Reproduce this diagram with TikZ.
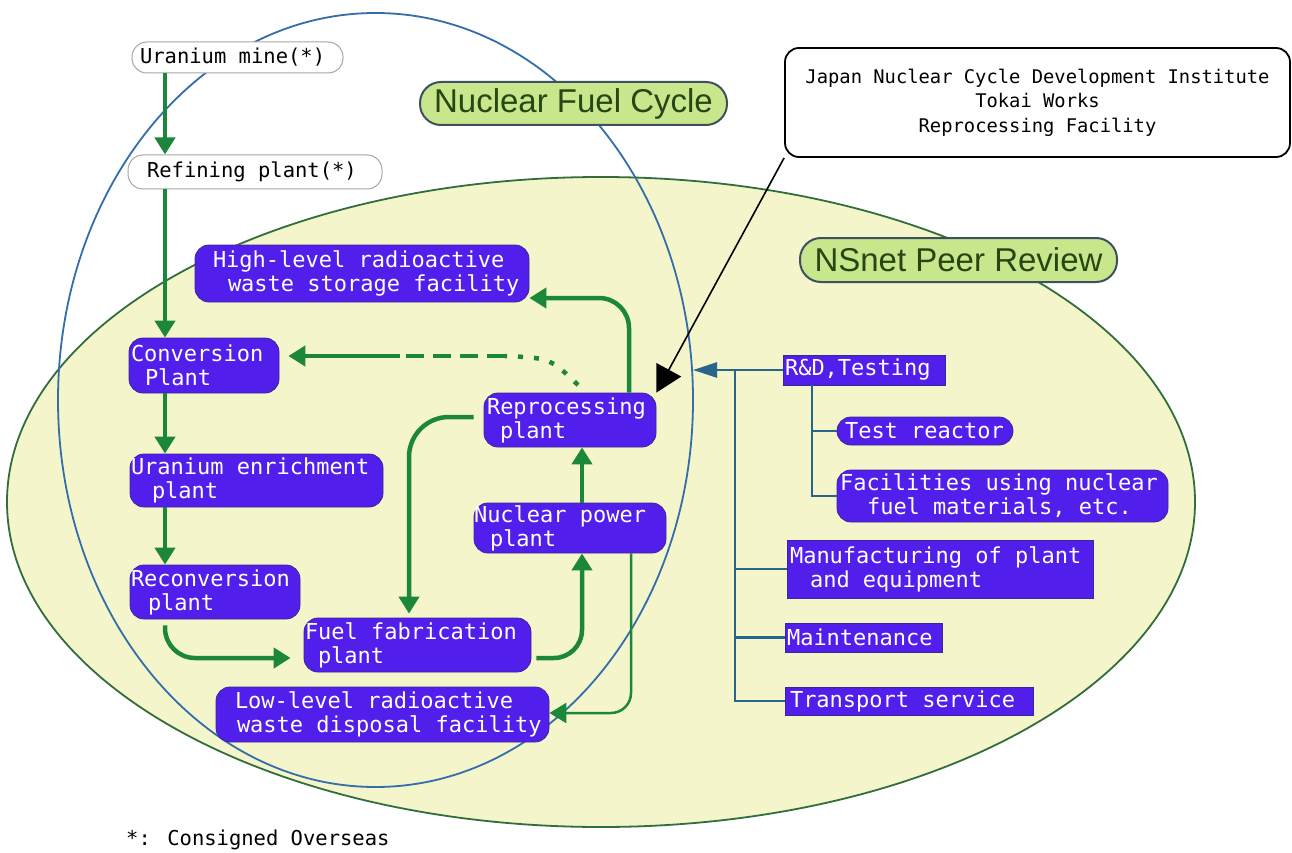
\documentclass[tikz,border=0pt]{standalone}
\usepackage{fontspec}
\usetikzlibrary{arrows.meta}
\newfontfamily\monof{DejaVu Sans Mono}
\newfontfamily\sansf{Liberation Sans}
\definecolor{nodeblue}{RGB}{82,30,236}
\definecolor{nodeedge}{RGB}{55,40,150}
\definecolor{garr}{RGB}{28,135,58}
\definecolor{pale}{RGB}{245,245,204}
\definecolor{gedge}{RGB}{50,110,60}
\definecolor{bedge}{RGB}{50,110,170}
\definecolor{tblue}{RGB}{40,100,140}
\definecolor{lblfill}{RGB}{200,230,140}
\definecolor{lbledge}{RGB}{60,80,95}
\definecolor{lbltext}{RGB}{40,70,20}
\newcommand{\myhs}[1]{\hspace*{#1pt}}
\newcommand{\fs}{\spaceskip=\fontdimen2\font\relax\xspaceskip=\fontdimen2\font\relax}
\newcommand{\monosize}[2]{\monof\fontsize{#1}{#2}\selectfont}
\begin{document}
\begin{tikzpicture}[x=1pt,y=-1pt,
  bnode/.style={draw=nodeedge, line width=0.8pt, fill=nodeblue, text=white, font=\monosize{22}{24}, align=left, inner xsep=0pt, inner ysep=0pt, rounded corners=14pt},
  rnode/.style={bnode, sharp corners},
  wnode/.style={draw=gray!70, line width=1pt, fill=white, text=black, font=\monosize{20.5}{24}, align=left, inner xsep=0pt, inner ysep=0pt, rounded corners=15pt},
  lbl/.style={draw=lbledge, line width=2pt, fill=lblfill, text=lbltext, font=\sansf\fontsize{33}{36}\selectfont, inner sep=0pt, rounded corners=21pt},
  garrow/.style={draw=garr, line width=4.5pt, -{Triangle[width=20pt,length=17pt]}},
  tline/.style={draw=tblue, line width=2.5pt},
]
\useasboundingbox (0,0) rectangle (1292,853);
\fill[white] (0,0) rectangle (1292,853);
% regions
\draw[draw=gedge, fill=pale, line width=1.8pt] (601,502) ellipse [x radius=594pt, y radius=325pt];
\draw[draw=bedge, line width=1.8pt] (375.5,400) ellipse [x radius=317.5pt, y radius=387pt];

% helper coordinates
\coordinate (colx) at (165,0);
\coordinate (colm) at (409,0);
\coordinate (colr) at (582,0);
\coordinate (colh) at (629,0);
\coordinate (coll) at (631,0);
\coordinate (y658) at (0,658);
\coordinate (y417) at (0,417);
\coordinate (y298) at (0,298);
\coordinate (y713) at (0,713);
\coordinate (d0) at (578,385);
\coordinate (d1) at (505,356);
\coordinate (d2) at (400,356);
\coordinate (btip) at (693,370);
\coordinate (tx) at (735,0);
\coordinate (sx) at (812,0);

% labels
\node[lbl, minimum width=307pt, minimum height=43pt] (nfc) at (573.5,103.5) {Nuclear Fuel Cycle};
\node[lbl, minimum width=317pt, minimum height=44pt] (nsnet) at (958.5,260) {NSnet Peer Review};

% fuel cycle nodes
\node[wnode, minimum width=211pt, text width=211pt, minimum height=31pt] (umine) at (237.5,57.5) {\fs\myhs{8}Uranium mine(*)};
\node[wnode, minimum width=254pt, text width=254pt, minimum height=34pt] (refine) at (255,172) {\fs\myhs{19}Refining plant(*)};
\node[bnode, minimum width=334pt, text width=334pt, minimum height=57pt] (high) at (362,273.5) {\fs\myhs{18}High-level radioactive\\\myhs{33}waste storage facility};
\node[bnode, minimum width=150pt, text width=150pt, minimum height=55pt] (conv) at (204,365.5) {\fs\myhs{2}Conversion\\\myhs{16}Plant};
\node[bnode, minimum width=253pt, text width=253pt, minimum height=53pt] (enrich) at (256.5,480.5) {\fs\myhs{1}Uranium enrichment\\\myhs{22}plant};
\node[bnode, minimum width=170pt, text width=170pt, minimum height=54pt] (recon) at (215,592) {\fs\myhs{1}Reconversion\\\myhs{18}plant};
\node[bnode, minimum width=227pt, text width=227pt, minimum height=54pt] (fuel) at (417.5,645) {\fs\myhs{1}Fuel fabrication\\\myhs{14}plant};
\node[bnode, minimum width=333pt, text width=333pt, minimum height=55pt] (low) at (382.5,714.5) {\fs\myhs{19}Low-level radioactive\\\myhs{21}waste disposal facility};
\node[bnode, minimum width=192pt, text width=192pt, minimum height=50pt] (npp) at (570,528) {\fs Nuclear power\\\myhs{16}plant};
\node[bnode, minimum width=172pt, text width=172pt, minimum height=54pt] (repro) at (570,420) {\fs\myhs{3}Reprocessing\\\myhs{16}plant};

% peer review nodes
\node[rnode, minimum width=162pt, text width=162pt, minimum height=30pt] (rd) at (864,370) {\fs\myhs{2}R\&D,Testing};
\node[bnode, minimum width=176pt, text width=176pt, minimum height=28pt] (test) at (925,431) {\fs\myhs{8}Test reactor};
\node[bnode, minimum width=331pt, text width=331pt, minimum height=52pt] (fac) at (1002.5,496) {\fs\myhs{3}Facilities using nuclear\\\myhs{30}fuel materials, etc.};
\node[rnode, minimum width=306pt, text width=306pt, minimum height=58pt] (manu) at (940,569) {\fs\myhs{3}Manufacturing of plant\\\myhs{23}and equipment};
\node[rnode, minimum width=157pt, text width=157pt, minimum height=29pt] (maint) at (863.5,637.5) {\fs\myhs{2}Maintenance};
\node[rnode, minimum width=248pt, text width=248pt, minimum height=28pt] (trans) at (909,701) {\fs\myhs{5}Transport service};

% callout
\node[draw=black, line width=1.8pt, fill=white, rounded corners=14pt, minimum width=505pt, minimum height=109pt, align=center, font=\monosize{18.8}{24.5}, inner sep=0pt] (callout) at (1037.5,102.5) {\fs Japan Nuclear Cycle Development Institute\\Tokai Works\\Reprocessing Facility};

% green flow
\draw[garrow] (umine.south -| colx) -- (refine.north -| colx);
\draw[garrow] (refine.south -| colx) -- (conv.north -| colx);
\draw[garrow] (conv.south -| colx) -- (enrich.north -| colx);
\draw[garrow] (enrich.south -| colx) -- (recon.north -| colx);
\draw[garrow, rounded corners=30pt, shorten <=6pt, shorten >=13pt] (recon.south -| colx) |- (fuel.west |- y658);
\draw[garrow, rounded corners=28pt, shorten <=5pt] (fuel.east |- y658) -| (npp.south -| colr);
\draw[garrow] (npp.north -| colr) -- (repro.south -| colr);
\draw[garrow, rounded corners=40pt, shorten <=10pt, shorten >=4pt] (repro.west |- y417) -| (fuel.north -| colm);
\draw[garrow, rounded corners=30pt] (repro.north -| colh) |- (high.east |- y298);
\draw[draw=garr, line width=2.5pt, -{Triangle[width=20pt,length=17pt]}, rounded corners=20pt] (npp.south -| coll) |- (low.east |- y713);
\draw[draw=garr, line width=4.5pt, dash pattern=on 5pt off 11pt] (d0) .. controls (550,358) .. (d1);
\draw[draw=garr, line width=4.5pt, dash pattern=on 18pt off 9pt] (d1) -- (d2);
\draw[garrow, shorten >=9pt] (d2) -- (conv.east |- d2);

% peer review tree
\draw[tline, -{Triangle[width=15pt,length=24pt]}] (rd.west) -- (btip);
\draw[tline] (rd.west -| tx) |- (trans.west);
\draw[tline] (tx |- manu.west) -- (manu.west);
\draw[tline] (tx |- maint.west) -- (maint.west);
\draw[tline] (rd.south -| sx) |- (fac.west);
\draw[tline] (sx |- test.west) -- (test.west);

% callout pointer
\draw[line width=1.6pt, -{Triangle[width=28pt,length=26pt]}] (callout.south west) -- (repro.north east);

% footnote
\node[font=\monosize{20.5}{24}, anchor=west, inner sep=0pt] (note) at (126,840) {*: Consigned Overseas};
\end{tikzpicture}
\end{document}
